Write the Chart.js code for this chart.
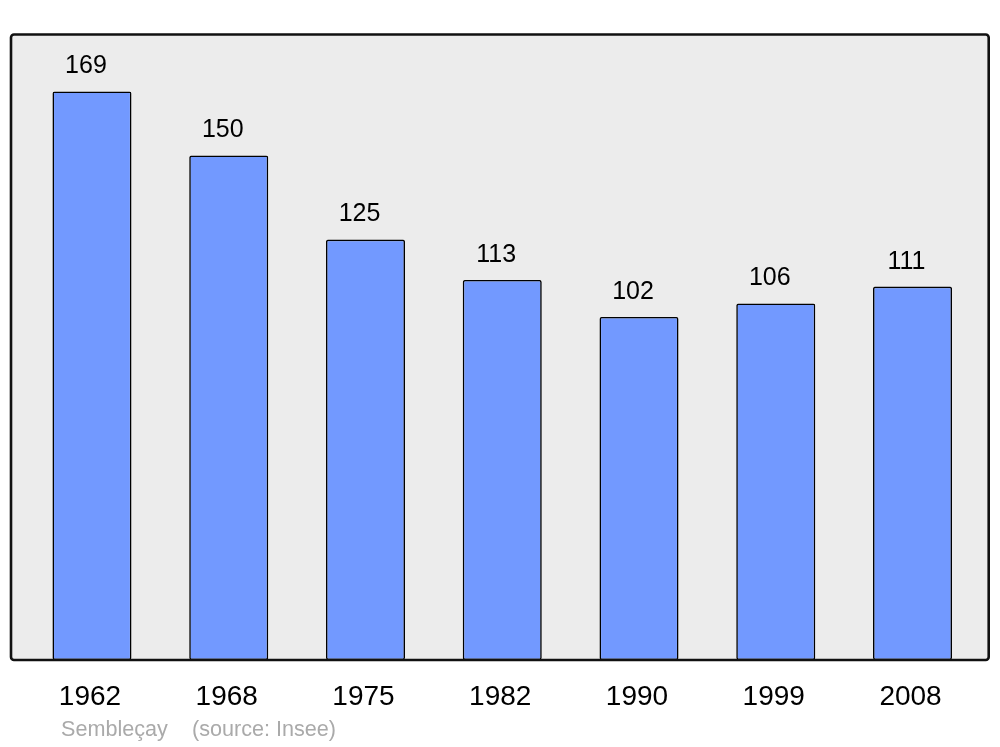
<!DOCTYPE html>
<html>
<head>
<meta charset="utf-8">
<script src="https://cdn.jsdelivr.net/npm/chart.js@4"></script>
<style>
  html, body { margin: 0; padding: 0; background: #fff; }
  #wrap { width: 1000px; height: 747px; position: relative; }
</style>
</head>
<body>
<div id="wrap"><canvas id="popChart"></canvas></div>
<script>
const years = ['1962', '1968', '1975', '1982', '1990', '1999', '2008'];
const population = [169, 150, 125, 113, 102, 106, 111];
const placeName = 'Sembleçay';
const sourceNote = '(source: Insee)';

// grey framed panel behind the bars
const panelPlugin = {
  id: 'panel',
  beforeDatasetsDraw(chart) {
    const { ctx, chartArea } = chart;
    const x0 = chartArea.left - 12.6, x1 = chartArea.right + 7.8;
    const y0 = chartArea.top + 0.5, y1 = chartArea.bottom;
    ctx.save();
    ctx.beginPath();
    ctx.roundRect(x0, y0, x1 - x0, y1 - y0, 3);
    ctx.fillStyle = '#ececec';
    ctx.fill();
    ctx.restore();
  },
  afterDatasetsDraw(chart) {
    const { ctx, chartArea } = chart;
    const x0 = chartArea.left - 12.6, x1 = chartArea.right + 7.8;
    const y0 = chartArea.top + 0.5, y1 = chartArea.bottom;
    ctx.save();
    ctx.beginPath();
    ctx.roundRect(x0, y0, x1 - x0, y1 - y0, 3);
    ctx.lineWidth = 2.6;
    ctx.strokeStyle = '#111';
    ctx.stroke();
    ctx.restore();
  }
};

// value labels above bars + source line
const labelPlugin = {
  id: 'labels',
  afterDraw(chart) {
    const { ctx } = chart;
    const meta = chart.getDatasetMeta(0);
    ctx.save();
    ctx.font = '25px "Liberation Sans", Arial, sans-serif';
    ctx.fillStyle = '#000';
    ctx.textAlign = 'center';
    ctx.textBaseline = 'middle';
    meta.data.forEach((bar, i) => {
      ctx.fillText(population[i], bar.x - 6, bar.y - 25);
    });
    ctx.font = '21.6px "Liberation Sans", Arial, sans-serif';
    ctx.fillStyle = '#aaaaaa';
    ctx.textAlign = 'left';
    ctx.fillText(placeName, 61, 730);
    ctx.fillText(sourceNote, 192, 730);
    ctx.restore();
  }
};

new Chart(document.getElementById('popChart'), {
  type: 'bar',
  data: {
    labels: years,
    datasets: [{
      data: population,
      backgroundColor: '#7299ff',
      borderColor: '#000',
      borderWidth: 1.6,
      borderRadius: 2,
      borderSkipped: false,
      barPercentage: 0.578,
      categoryPercentage: 1
    }]
  },
  options: {
    responsive: true,
    maintainAspectRatio: false,
    animation: false,
    layout: { padding: { left: 23.6, right: 19.1, top: 34, bottom: 0 } },
    plugins: { legend: { display: false }, tooltip: { enabled: false } },
    scales: {
      x: {
        grid: { display: false, drawTicks: false },
        border: { display: false },
        ticks: {
          color: '#000',
          padding: 20,
          labelOffset: -2,
          font: { size: 28, family: '"Liberation Sans", Arial, sans-serif' }
        },
        afterFit(scale) { scale.height = 87; }
      },
      y: {
        display: false,
        min: 0,
        max: 186.1
      }
    }
  },
  plugins: [panelPlugin, labelPlugin]
});
</script>
</body>
</html>
